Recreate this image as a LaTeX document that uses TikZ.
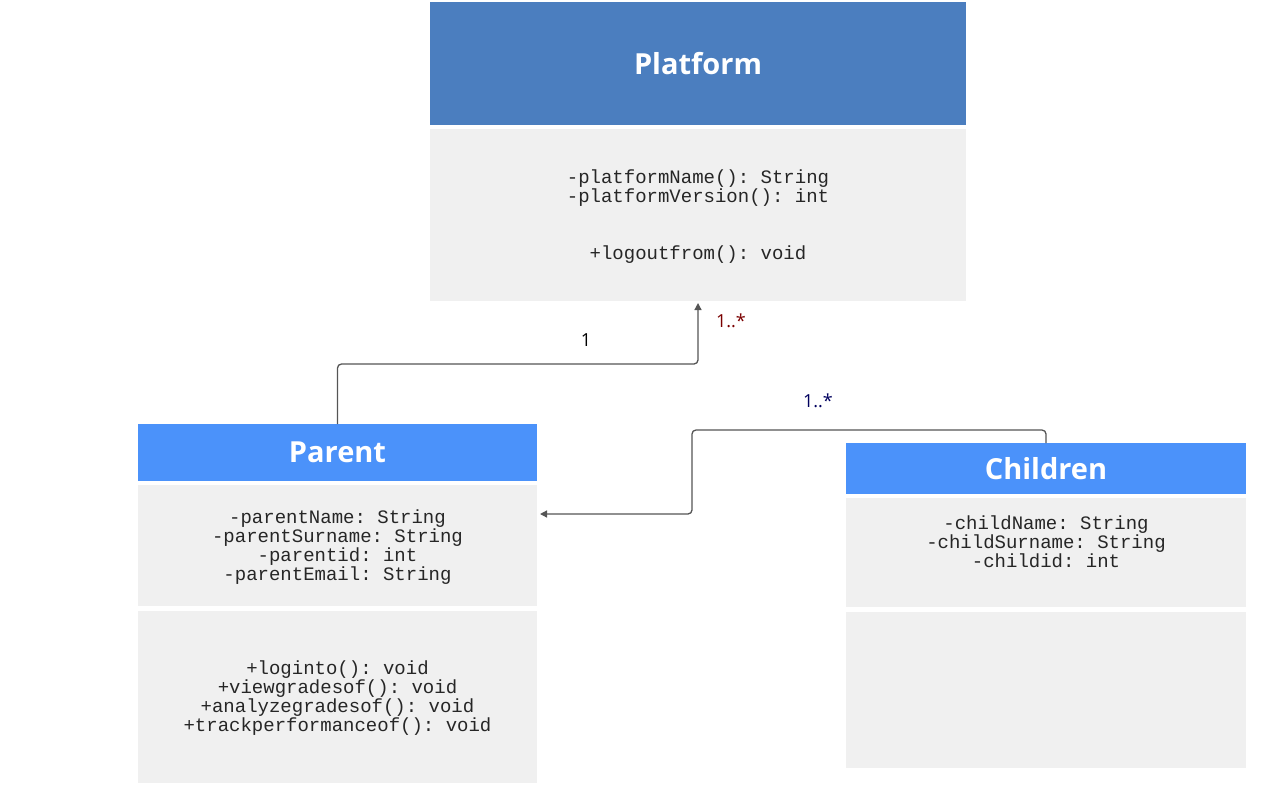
\documentclass[tikz,border=0pt]{standalone}
\usepackage{fontspec}
\setmainfont{Open Sans}
\setmonofont{Liberation Mono}
\usetikzlibrary{arrows.meta,calc}
\definecolor{platblue}{HTML}{4B7EBF}
\definecolor{clsblue}{HTML}{4B92FA}
\definecolor{bodygray}{HTML}{F0F0F0}
\definecolor{linegray}{HTML}{555555}
\definecolor{txtgray}{HTML}{262626}
\definecolor{darkred}{HTML}{7A0000}
\definecolor{navy}{HTML}{00005E}
\begin{document}
\begin{tikzpicture}[x=1pt,y=-1pt,
  box/.style={draw=none,anchor=north west,inner sep=0pt,outer sep=0pt},
  header/.style={box,fill=#1,text=white,font=\fontsize{29}{31}\selectfont\bfseries},
  body/.style={box,fill=bodygray},
  mono/.style={font=\ttfamily\fontsize{19}{19}\selectfont,text=txtgray,align=center,inner sep=0pt},
  mult/.style={font=\fontsize{18}{20}\selectfont,inner sep=0pt},
  conn/.style={draw=linegray,line width=1.3pt,rounded corners=4pt,-{Triangle[length=7pt,width=7pt]}}]
\useasboundingbox (0,0) rectangle (1273,792);
% Platform
\node[header=platblue,minimum width=536pt,minimum height=123pt] (phead) at (430,2) {Platform};
\node[body,minimum width=536pt,minimum height=172pt] (pbody) at (430,129) {};
\node[mono] (pattr) at (698,188.5) {-platformName(): String\\-platformVersion(): int};
\node[mono] (pmeth) at (698,255) {+logoutfrom(): void};
% Parent
\node[header=clsblue,minimum width=399pt,minimum height=57pt] (parhead) at (138,424) {Parent};
\node[body,minimum width=399pt,minimum height=121pt] (parattrs) at (138,485) {};
\node[body,minimum width=399pt,minimum height=172pt] (parmeths) at (138,611) {};
\node[mono] (parattrtxt) at (337.5,547.5) {-parentName: String\\-parentSurname: String\\-parentid: int\\-parentEmail: String};
\node[mono] (parmethtxt) at (337.5,698.5) {+loginto(): void\\+viewgradesof(): void\\+analyzegradesof(): void\\+trackperformanceof(): void};
% Children
\node[header=clsblue,minimum width=400pt,minimum height=51pt] (chead) at (846,443) {Children};
\node[body,minimum width=400pt,minimum height=109pt] (cattrs) at (846,498) {};
\node[body,minimum width=400pt,minimum height=156pt] (cmeths) at (846,612) {};
\node[mono] (cattrtxt) at (1046,542) {-childName: String\\-childSurname: String\\-childid: int};
% connectors
\coordinate (bend1) at (698,364);
\coordinate (bend2) at (692,430);
\draw[conn] (parhead.north) |- (bend1) -- ([yshift=-2pt]pbody.south);
\draw[conn] (chead.north) |- (bend2) |- ([xshift=3pt,yshift=31.5pt]parattrs.east);
% multiplicities
\node[mult] (m1) at (586,340) {1};
\node[mult,text=darkred] (m2) at (731,321) {1..*};
\node[mult,text=navy] (m3) at (818,401) {1..*};
\end{tikzpicture}
\end{document}
